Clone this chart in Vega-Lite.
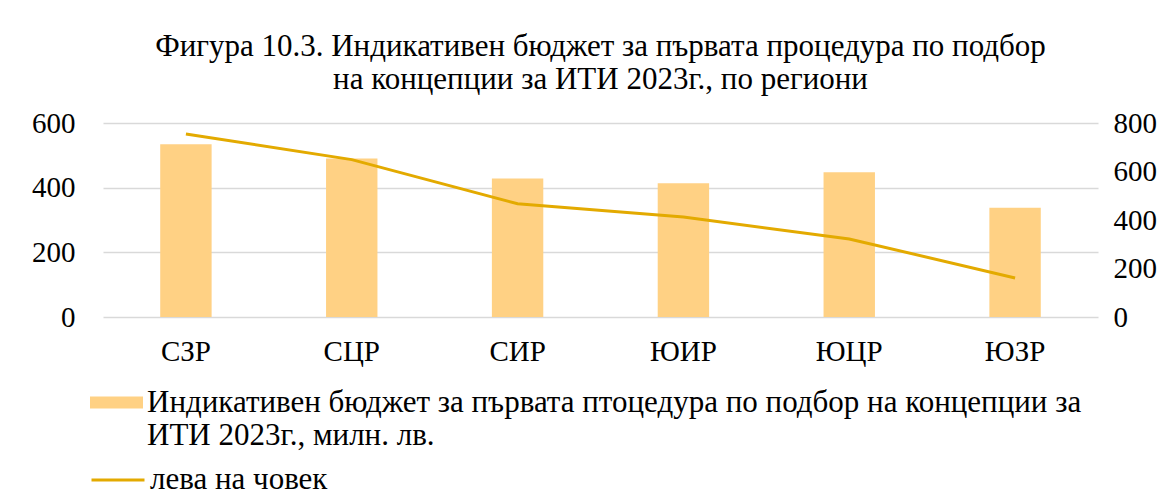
{
  "$schema": "https://vega.github.io/schema/vega-lite/v6.json",
  "autosize": "none",
  "width": 995,
  "height": 194,
  "padding": {"left": 103, "top": 123, "right": 76, "bottom": 186},
  "background": "white",
  "config": {
    "font": "Liberation Serif",
    "view": {"stroke": null},
    "axis": {"labelFont": "Liberation Serif", "labelColor": "#000000", "labelFontSize": 29, "ticks": false, "domain": false, "title": null},
    "legend": {"labelFont": "Liberation Serif", "labelColor": "#000000", "labelFontSize": 31}
  },
  "title": {
    "text": ["Фигура 10.3. Индикативен бюджет за първата процедура по подбор", "на концепции за ИТИ 2023г., по региони"],
    "font": "Liberation Serif",
    "fontSize": 31,
    "fontWeight": "normal",
    "color": "#000000",
    "anchor": "middle",
    "lineHeight": 33,
    "offset": 13
  },
  "data": {
    "values": [
      {"region": "СЗР", "budget": 534, "perCapita": 755},
      {"region": "СЦР", "budget": 490, "perCapita": 649},
      {"region": "СИР", "budget": 428, "perCapita": 467},
      {"region": "ЮИР", "budget": 414, "perCapita": 412},
      {"region": "ЮЦР", "budget": 448, "perCapita": 322},
      {"region": "ЮЗР", "budget": 338, "perCapita": 161}
    ]
  },
  "encoding": {
    "x": {
      "field": "region",
      "type": "nominal",
      "sort": null,
      "scale": {"paddingInner": 0.69, "paddingOuter": 0.345},
      "axis": {"labelAngle": 0, "labelPadding": 20, "grid": false}
    }
  },
  "layer": [
    {
      "mark": {"type": "bar"},
      "encoding": {
        "y": {
          "field": "budget",
          "type": "quantitative",
          "scale": {"domain": [0, 600]},
          "axis": {"values": [0, 200, 400, 600], "grid": true, "gridColor": "#D9D9D9", "gridWidth": 1.5, "labelPadding": 28}
        },
        "fill": {
          "datum": "Индикативен бюджет за първата птоцедура по подбор на концепции за ИТИ 2023г., милн. лв.",
          "type": "nominal",
          "scale": {"range": ["#FFD184"]},
          "legend": {
            "orient": "none",
            "legendX": -13,
            "legendY": 253,
            "title": null,
            "symbolType": "M-1,-0.226H1V0.226H-1Z",
            "symbolSize": 2809,
            "symbolStrokeWidth": 0,
            "labelLimit": 2000,
            "labelOffset": 4,
            "labelExpr": "['Индикативен бюджет за първата птоцедура по подбор на концепции за', 'ИТИ 2023г., милн. лв.']",
            "labelLineHeight": 35
          }
        }
      }
    },
    {
      "mark": {"type": "line", "strokeWidth": 3},
      "encoding": {
        "y": {
          "field": "perCapita",
          "type": "quantitative",
          "scale": {"domain": [0, 800]},
          "axis": {"orient": "right", "values": [0, 200, 400, 600, 800], "grid": false, "labelPadding": 15}
        },
        "stroke": {
          "datum": "лева на човек",
          "type": "nominal",
          "scale": {"range": ["#E3AA00"]},
          "legend": {
            "orient": "none",
            "legendX": -13,
            "legendY": 329,
            "title": null,
            "symbolType": "stroke",
            "symbolSize": 2809,
            "symbolStrokeWidth": 3,
            "labelOffset": 4,
            "labelLimit": 1000
          }
        }
      }
    }
  ],
  "resolve": {"scale": {"y": "independent", "fill": "independent", "stroke": "independent"}}
}
